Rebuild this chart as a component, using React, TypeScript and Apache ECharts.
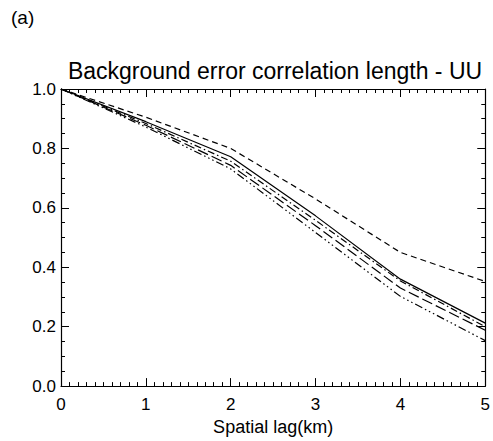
import React, { useEffect, useRef } from "react";
import * as echarts from "echarts";

const lags = [0, 1, 2, 3, 4, 5];
const solidSeries = [1.0, 0.89, 0.772, 0.573, 0.36, 0.212];
const shortDashSeries = [1.0, 0.905, 0.8, 0.63, 0.45, 0.352];
const dashDotSeries = [1.0, 0.884, 0.757, 0.558, 0.354, 0.2];
const longDashSeries = [1.0, 0.878, 0.743, 0.54, 0.33, 0.188];
const dashDot3Series = [1.0, 0.872, 0.731, 0.517, 0.302, 0.153];
const xTicks = [0, 1, 2, 3, 4, 5];
const yTicks = [0, 0.2, 0.4, 0.6, 0.8, 1.0];

const FONT = "'Liberation Sans', Arial, Helvetica, sans-serif";

export default function App() {
  const ref = useRef<HTMLDivElement>(null);
  useEffect(() => {
    if (!ref.current) return;
    const chart = echarts.init(ref.current, undefined, { renderer: "svg" });
    const mk = (name: string, data: number[], type: any) => ({
      name,
      type: "line",
      data: lags.map((x, i) => [x, data[i]]),
      symbol: "none",
      lineStyle: { color: "#000", width: 1.2, type },
      xAxisIndex: 0,
      yAxisIndex: 0,
    });
    const axisCommon = {
      axisLine: { show: true, onZero: false, lineStyle: { color: "#000", width: 1.2 } },
      axisTick: { show: true, inside: true, length: 8, lineStyle: { color: "#000" } },
      minorTick: { show: true, length: 4, lineStyle: { color: "#000" } },
      splitLine: { show: false },
    };
    chart.setOption({
      animation: false,
      backgroundColor: "#fff",
      grid: { left: 61, right: 6, top: 89, bottom: 51 },
      graphic: [
        {
          type: "text",
          left: 11,
          top: 8,
          style: { text: "(a)", font: `19px ${FONT}`, fill: "#000" },
        },
        {
          type: "text",
          x: 275,
          y: 71,
          style: {
            text: "Background error correlation length - UU",
            font: `23px ${FONT}`,
            fill: "#000",
            align: "center",
            verticalAlign: "middle",
          },
        },
      ],
      xAxis: [
        {
          type: "value",
          min: xTicks[0],
          max: xTicks[xTicks.length - 1],
          interval: 1,
          position: "bottom",
          ...axisCommon,
          minorTick: { ...axisCommon.minorTick, splitNumber: 10 },
          axisLabel: { color: "#000", fontSize: 17, fontFamily: FONT, margin: 10 },
          name: "Spatial lag(km)",
          nameLocation: "middle",
          nameGap: 30,
          nameTextStyle: { color: "#000", fontSize: 18, fontFamily: FONT },
        },
        {
          type: "value",
          min: xTicks[0],
          max: xTicks[xTicks.length - 1],
          interval: 1,
          position: "top",
          ...axisCommon,
          minorTick: { ...axisCommon.minorTick, splitNumber: 10 },
          axisLabel: { show: false },
        },
      ],
      yAxis: [
        {
          type: "value",
          min: yTicks[0],
          max: yTicks[yTicks.length - 1],
          interval: 0.2,
          position: "left",
          ...axisCommon,
          minorTick: { ...axisCommon.minorTick, splitNumber: 4 },
          axisLabel: {
            color: "#000",
            fontSize: 17,
            fontFamily: FONT,
            margin: 5,
            formatter: (v: number) => v.toFixed(1),
          },
        },
        {
          type: "value",
          min: yTicks[0],
          max: yTicks[yTicks.length - 1],
          interval: 0.2,
          position: "right",
          ...axisCommon,
          minorTick: { ...axisCommon.minorTick, splitNumber: 4 },
          axisLabel: { show: false },
        },
      ],
      series: [
        mk("solid", solidSeries, "solid"),
        mk("short dash", shortDashSeries, [6, 4]),
        mk("dash dot", dashDotSeries, [7, 3, 1.5, 3]),
        mk("long dash", longDashSeries, [11, 4]),
        mk("dash dot dot dot", dashDot3Series, [8, 3, 1.5, 3, 1.5, 3, 1.5, 3]),
      ],
    });
    return () => chart.dispose();
  }, []);
  return <div ref={ref} style={{ width: 493, height: 441, position: "absolute", left: 0, top: 0 }} />;
}
